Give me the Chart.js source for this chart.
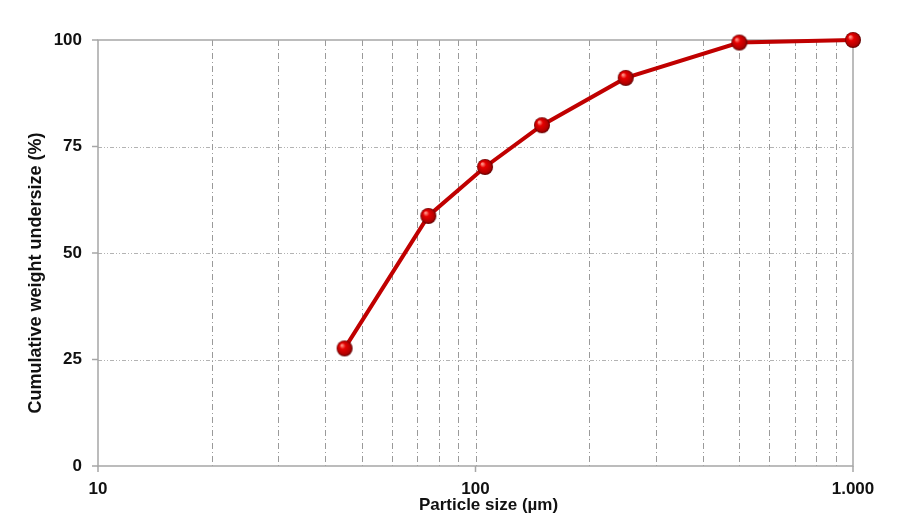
<!DOCTYPE html>
<html>
<head>
<meta charset="utf-8">
<script src="https://cdn.jsdelivr.net/npm/chart.js@4"></script>
<style>
  html, body { margin: 0; padding: 0; background: #fff; }
  #wrap { width: 900px; height: 517px; }
</style>
</head>
<body>
<div id="wrap"><canvas id="psd"></canvas></div>
<script>
// particle size (µm) vs cumulative weight undersize (%)
const sizes = [45, 75, 106, 150, 250, 500, 1000];
const undersize = [27.6, 58.7, 70.2, 80.0, 91.1, 99.4, 100];

const xGridValues = [10, 20, 30, 40, 50, 60, 70, 80, 90, 100,
  200, 300, 400, 500, 600, 700, 800, 900, 1000];
const xLabels = { 10: '10', 100: '100', 1000: '1.000' };
const yTicks = [0, 25, 50, 75, 100];
const xTitle = 'Particle size (µm)';
const yTitle = 'Cumulative weight undersize (%)';

const AXIS = '#a6a6a6';
const INK = '#111';
const FONT = 'Liberation Sans, Arial, sans-serif';

// small shaded ball used as the point marker
function makeBall(r) {
  const c = document.createElement('canvas');
  c.width = c.height = r * 2 + 2;
  const g = c.getContext('2d');
  const cx = r + 1, cy = r + 1;
  const grad = g.createRadialGradient(cx - r * 0.35, cy - r * 0.4, r * 0.1, cx, cy, r);
  grad.addColorStop(0, '#ff8a7e');
  grad.addColorStop(0.3, '#e60000');
  grad.addColorStop(0.8, '#b00000');
  grad.addColorStop(1, '#5a0000');
  g.fillStyle = grad;
  g.beginPath();
  g.arc(cx, cy, r, 0, Math.PI * 2);
  g.fill();
  return c;
}

// dashed grid, frame, tick marks and axis titles, placed through the scales
const framePlugin = {
  id: 'frame',
  beforeDatasetsDraw(chart) {
    const { ctx, chartArea: a, scales: { x, y } } = chart;
    ctx.save();
    ctx.lineWidth = 1;
    ctx.strokeStyle = '#b3b3b3';
    ctx.setLineDash([4, 2, 1, 2, 1, 2]);
    yTicks.forEach(v => {
      if (v === 0 || v === 100) return;
      const py = Math.round(y.getPixelForValue(v)) + 0.5;
      ctx.beginPath();
      ctx.moveTo(a.left, py);
      ctx.lineTo(a.right, py);
      ctx.stroke();
    });
    ctx.strokeStyle = '#9a9a9a';
    ctx.setLineDash([6, 3, 1, 3]);
    xGridValues.forEach(v => {
      if (v === 10 || v === 1000) return;
      const px = Math.round(x.getPixelForValue(v)) + 0.5;
      ctx.beginPath();
      ctx.moveTo(px, a.top);
      ctx.lineTo(px, a.bottom);
      ctx.stroke();
    });
    ctx.setLineDash([]);
    ctx.strokeStyle = AXIS;
    ctx.lineWidth = 1.5;
    ctx.strokeRect(a.left, a.top, a.right - a.left, a.bottom - a.top);
    ctx.beginPath();
    yTicks.forEach(v => {
      const py = y.getPixelForValue(v);
      ctx.moveTo(a.left - 6, py);
      ctx.lineTo(a.left, py);
    });
    [10, 100, 1000].forEach(v => {
      const px = x.getPixelForValue(v);
      ctx.moveTo(px, a.bottom);
      ctx.lineTo(px, a.bottom + 6);
    });
    ctx.stroke();
    ctx.restore();
  },
  afterDraw(chart) {
    const { ctx, chartArea: a } = chart;
    ctx.save();
    ctx.fillStyle = INK;
    ctx.textAlign = 'center';
    ctx.textBaseline = 'middle';
    ctx.font = `bold 17px ${FONT}`;
    ctx.fillText(xTitle, (a.left + a.right) / 2 + 13, a.bottom + 39);
    ctx.translate(36, (a.top + a.bottom) / 2 + 20);
    ctx.rotate(-Math.PI / 2);
    ctx.font = `bold 18px ${FONT}`;
    ctx.fillText(yTitle, 0, 0);
    ctx.restore();
  }
};

const ball = makeBall(8);

new Chart(document.getElementById('psd'), {
  type: 'scatter',
  data: {
    datasets: [{
      data: sizes.map((s, i) => ({ x: s, y: undersize[i] })),
      showLine: true,
      borderColor: '#c00000',
      borderWidth: 4,
      pointStyle: ball,
      pointRadius: 8,
      clip: false,
    }]
  },
  options: {
    responsive: true,
    maintainAspectRatio: false,
    animation: false,
    layout: { padding: { top: 40, right: 47, left: 0, bottom: 0 } },
    plugins: { legend: { display: false }, tooltip: { enabled: false } },
    scales: {
      x: {
        type: 'logarithmic',
        min: 10,
        max: 1000,
        afterBuildTicks: scale => {
          scale.ticks = xGridValues.map(v => ({ value: v }));
        },
        afterFit: scale => { scale.height = 51; },
        grid: { display: false, drawTicks: false },
        border: { display: false },
        ticks: {
          autoSkip: false,
          maxRotation: 0,
          padding: 13,
          color: INK,
          font: { family: FONT, size: 17, weight: 'bold' },
          callback: v => xLabels[v] || '',
        },
      },
      y: {
        min: 0,
        max: 100,
        afterBuildTicks: scale => {
          scale.ticks = yTicks.map(v => ({ value: v }));
        },
        afterFit: scale => { scale.width = 98; },
        grid: { display: false, drawTicks: false },
        border: { display: false },
        ticks: {
          padding: 16,
          color: INK,
          font: { family: FONT, size: 17, weight: 'bold' },
        },
      },
    },
  },
  plugins: [framePlugin],
});
</script>
</body>
</html>
